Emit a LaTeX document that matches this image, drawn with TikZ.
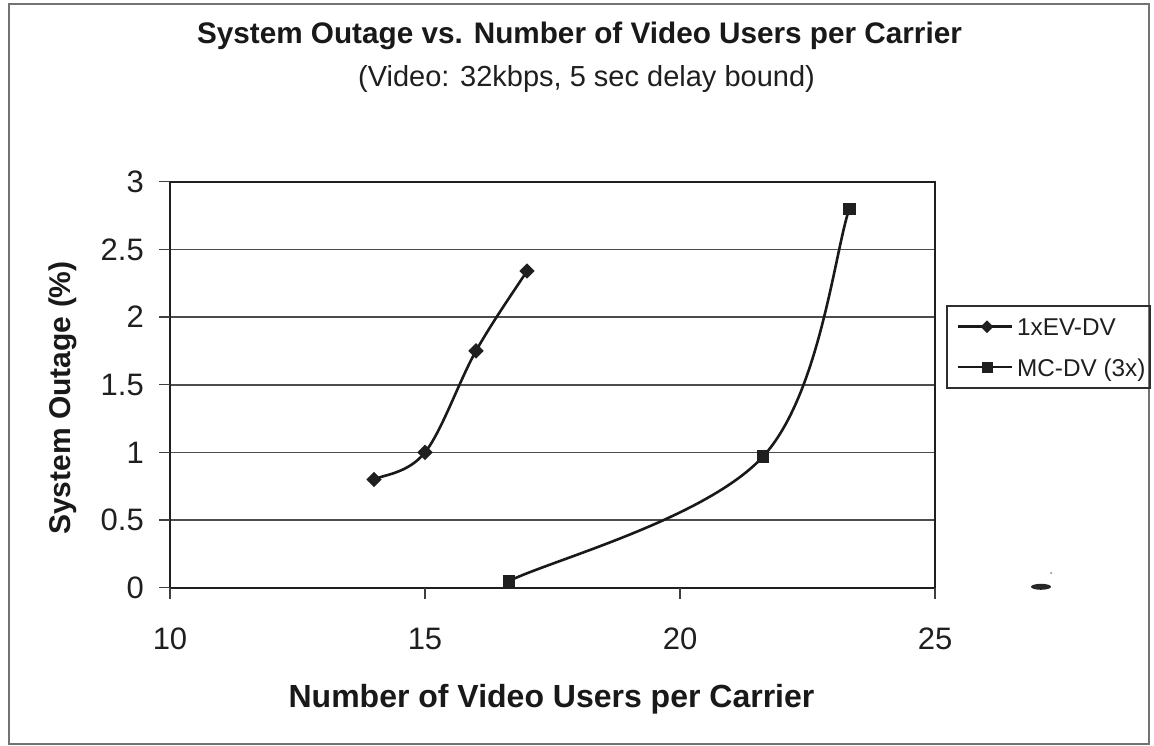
\documentclass[tikz,border=0pt]{standalone}
\usepackage{fontspec}
\setmainfont{Liberation Sans}
\usetikzlibrary{shapes.geometric}

\begin{document}
\begin{tikzpicture}[x=1pt, y=-1pt,
  frameline/.style={draw=black!55, line width=1.8pt},
  axisline/.style={draw=black!88, line width=2.4pt},
  gridline/.style={draw=black!70, line width=1.6pt},
  tickline/.style={draw=black!75, line width=1.4pt},
  curve/.style={draw=black!90, line width=2.6pt},
  dmark/.style={diamond, fill=black!88, inner sep=0pt, minimum size=15.5pt},
  smark/.style={rectangle, fill=black!88, inner sep=0pt, minimum size=12.5pt},
  ldmark/.style={diamond, fill=black!88, inner sep=0pt, minimum size=13pt},
  lsmark/.style={rectangle, fill=black!88, inner sep=0pt, minimum size=11pt},
  ticklab/.style={font=\fontsize{31}{36}\selectfont, text=black!88, inner sep=0pt},
  titlefont/.style={font=\fontsize{29.7}{34}\selectfont\bfseries, text=black!90, inner sep=0pt},
  subfont/.style={font=\fontsize{29}{34}\selectfont, text=black!88, inner sep=0pt},
  axtitle/.style={font=\fontsize{32}{38}\selectfont\bfseries, text=black!90, inner sep=0pt},
  legtext/.style={font=\fontsize{24.3}{29}\selectfont, text=black!88, inner sep=0pt},
]
\useasboundingbox (0,0) rectangle (1154,746);
\fill[white] (0,0) rectangle (1154,746);

% outer chart border
\draw[frameline] (9,4) rectangle (1149,744);

% titles
\node[titlefont, anchor=base] (title) at (579.5,44) {System Outage vs. Number of Video Users per Carrier};
\node[subfont, anchor=base] (subtitle) at (586.5,87) {(Video: 32kbps, 5 sec delay bound)};

% data area: x from 10 to 25, y from 0 to 3
\begin{scope}[shift={(-340,587.7)}, x=51pt, y=135.33pt]
  % horizontal gridlines
  \foreach \v in {0.5,1.0,1.5,2.0,2.5}
    \draw[gridline] (10,\v) -- (25,\v);
  % plot area border
  \draw[axisline] (10,0) rectangle (25,3);
  % y ticks and labels
  \foreach \v/\l [count=\i] in {0/0,0.5/0.5,1/1,1.5/1.5,2/2,2.5/2.5,3/3} {
    \draw[tickline] (10,\v) -- ++(-11pt,0pt);
    \node[ticklab, anchor=east, xshift=-26pt] (ylab-\i) at (10,\v) {\l};
  }
  % x ticks and labels
  \foreach \v [count=\i] in {10,15,20,25} {
    \draw[tickline] (\v,0) -- ++(0pt,-11pt);
    \node[ticklab, anchor=base, yshift=-61.3pt] (xlab-\i) at (\v,0) {\v};
  }

  % series 1xEV-DV
  \coordinate (a1) at (14,0.8);
  \coordinate (a2) at (15,1.0);
  \coordinate (a3) at (16,1.75);
  \coordinate (a4) at (17,2.34);
  \draw[curve] (a1) .. controls (14.1667,0.8333) and (14.6667,0.8417) .. (a2)
                    .. controls (15.3333,1.1583) and (15.6667,1.5267) .. (a3)
                    .. controls (16.3333,1.9733) and (16.8333,2.2417) .. (a4);
  \foreach \p in {a1,a2,a3,a4}
    \node[dmark] (m-\p) at (\p) {};

  % series MC-DV (3x)
  \coordinate (b1) at (16.65,0.05);
  \coordinate (b2) at (21.63,0.97);
  \coordinate (b3) at (23.32,2.8);
  \draw[curve] (b1) .. controls (17.48,0.2033) and (20.518,0.5117) .. (b2)
                    .. controls (22.742,1.4283) and (23.038,2.495) .. (b3);
  \foreach \p in {b1,b2,b3}
    \node[smark] (m-\p) at (\p) {};
\end{scope}

% axis titles
\node[axtitle, anchor=base] (xtitle) at (551.5,707) {Number of Video Users per Carrier};
\node[axtitle, anchor=base, rotate=90, font=\fontsize{30}{36}\selectfont\bfseries] (ytitle) at (70,398) {System Outage (\%)};

% legend
\draw[draw=black!82, line width=1.6pt] (947,306) rectangle (1150,388);
\coordinate (l1s) at (958,326.7);
\coordinate (l1e) at (1012,326.7);
\coordinate (l2s) at (958,367);
\coordinate (l2e) at (1012,367);
\draw[curve] (l1s) -- (l1e);
\draw[curve] (l2s) -- (l2e);
\node[ldmark] (leg-m1) at (987,326.7) {};
\node[lsmark] (leg-m2) at (987,367) {};
\node[legtext, anchor=base west] (leg-t1) at (1017,335.5) {1xEV-DV};
\node[legtext, anchor=base west] (leg-t2) at (1017,376) {MC-DV (3x)};

% small stray mark right of the plot area
\fill[black!85] (1041,586.8) ellipse [x radius=10pt, y radius=3pt];
\fill[black!50] (1051,573) circle [radius=1pt];
\end{tikzpicture}
\end{document}
